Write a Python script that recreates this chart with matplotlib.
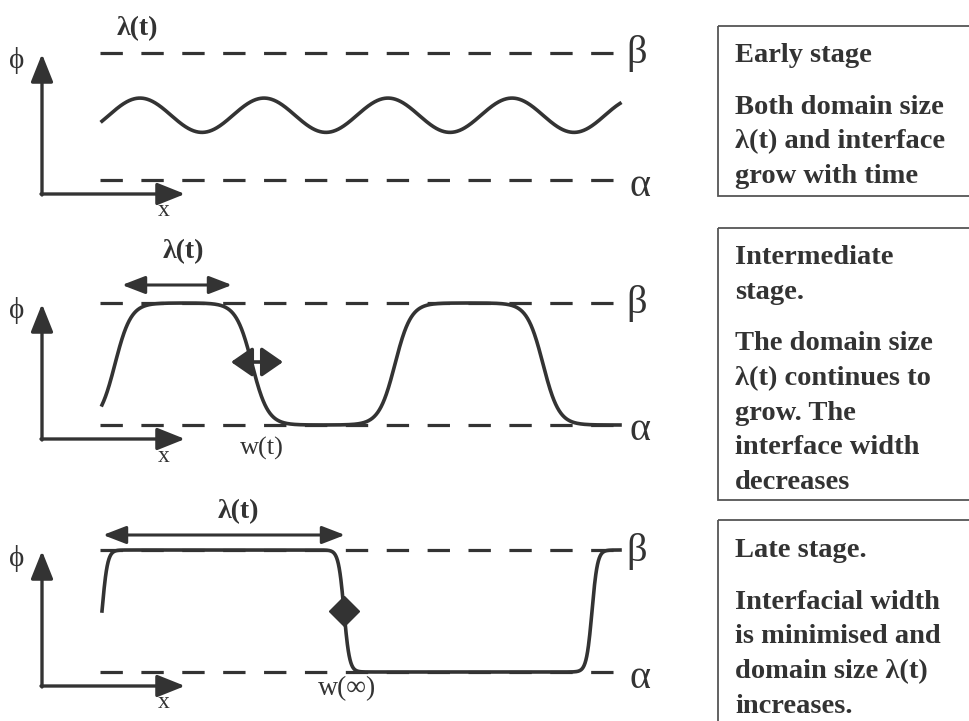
import numpy as np
import matplotlib
matplotlib.use("Agg")
import matplotlib.pyplot as plt
from matplotlib.patches import Rectangle

# ---------------- data (schematic parameters, pixel space) ----------------
panel_beta_y = [53, 303, 550]      # y of beta dashed level per panel
panel_alpha_y = [180, 425, 672]    # y of alpha dashed level per panel
curve_x_start = 102
curve_x_end = 620

# early stage: small-amplitude wave (fraction of beta-alpha gap)
wave_center = 0.51
wave_amp = 0.135
wave_period = 124
wave_peak_x = 140

# intermediate stage: interfaces (centres, signs, widths)
mid_centres = [115, 252, 395, 543]
mid_signs = [1, -1, 1, -1]
mid_width = 16

# late stage: sharp interfaces
late_centres = [102, 344, 592]
late_signs = [1, -1, 1]
late_width = 5.5

stage_lines = [
    ["Early stage", None, "Both domain size", "λ(t) and interface", "grow with time"],
    ["Intermediate", "stage.", None, "The domain size", "λ(t) continues to", "grow. The",
     "interface width", "decreases"],
    ["Late stage.", None, "Interfacial width", "is minimised and", "domain size λ(t)", "increases."],
]
box_first_line_y = [53, 255, 548]
box_top = [26, 228, 520]
box_bottom = [196, 500, 740]

lam_label_xy = [(137, 29), (183, 252), (238, 512)]
lam_arrow = [None, (122, 232, 285), (103, 345, 535)]

# ---------------- drawing ----------------
W, H = 969, 721
fig = plt.figure(figsize=(W / 100, H / 100), dpi=100)
ax = fig.add_axes([0, 0, 1, 1])
ax.set_xlim(0, W)
ax.set_ylim(H, 0)
ax.axis("off")

col = "#333333"
serif = ["Liberation Serif", "DejaVu Serif"]

def to_px(frac, p):
    return panel_alpha_y[p] - frac * (panel_alpha_y[p] - panel_beta_y[p])

x = np.linspace(curve_x_start, curve_x_end, 1200)

def profile(centres, signs, w):
    f = np.zeros_like(x)
    for c, s in zip(centres, signs):
        f += s * 0.5 * (1 + np.tanh((x - c) / w))
    return f

curves = [
    wave_center + wave_amp * np.cos(2 * np.pi * (x - wave_peak_x) / wave_period),
    profile(mid_centres, mid_signs, mid_width),
    profile(late_centres, late_signs, late_width),
]

axis_head = dict(arrowstyle="-|>,head_length=0.85,head_width=0.34", color=col, lw=2.4,
                 mutation_scale=20, shrinkA=0, shrinkB=0)

for p in range(3):
    yb, ya = panel_beta_y[p], panel_alpha_y[p]
    # dashed levels
    for yy in (yb, ya):
        ax.plot([100, 622], [yy, yy], color=col, lw=2.3, ls=(0, (7.0, 5.8)), solid_capstyle="butt")
    ax.text(637, yb + 1, "β", fontsize=29, family=serif, color=col, va="center", ha="center")
    ax.text(640, ya + 6, "α", fontsize=29, family=serif, color=col, va="center", ha="center")
    # axes arrows
    ox, oy = 42, ya + 14
    ax.annotate("", xy=(ox, yb + 1), xytext=(ox, oy + 1), arrowprops=axis_head)
    ax.annotate("", xy=(185, oy), xytext=(ox - 1, oy), arrowprops=axis_head)
    ax.text(17, yb + 8, "ϕ", fontsize=21, family=serif, color=col, va="center", ha="center")
    ax.text(164, oy + 17, "x", fontsize=17, family=serif, color=col, va="center", ha="center")
    # curve
    ax.plot(x, to_px(curves[p], p), color=col, lw=2.6)
    # lambda label
    lx, ly = lam_label_xy[p]
    ax.text(lx, ly, "λ(t)", fontsize=20, family=serif, weight="bold", color=col, ha="center", va="center")
    if lam_arrow[p] is not None:
        x0, x1, yy = lam_arrow[p]
        ax.annotate("", xy=(x1, yy), xytext=(x0, yy),
                    arrowprops=dict(arrowstyle="<|-|>,head_length=0.7,head_width=0.27", color=col, lw=2.2,
                                    mutation_scale=20, shrinkA=0, shrinkB=0))
    # right text box
    ax.add_patch(Rectangle((718, box_top[p]), 300, box_bottom[p] - box_top[p],
                           fill=False, ec="#555555", lw=1.3, clip_on=True))
    yline = box_first_line_y[p]
    for line in stage_lines[p]:
        if line is None:
            yline += 17
            continue
        ax.text(735, yline + 9, line, fontsize=20.5, family=serif, weight="bold", color=col,
                ha="left", va="baseline")
        yline += 34.7

# intermediate: interface-width arrow
ax.annotate("", xy=(283, 362), xytext=(231, 362),
            arrowprops=dict(arrowstyle="<|-|>,head_length=0.65,head_width=0.45", color=col, lw=2.6,
                            mutation_scale=20, shrinkA=0, shrinkB=0))
ax.text(262, 448, "w(t)", fontsize=19, family=serif, color=col, ha="center", va="center")

# late: diamond marker at interface
ax.plot([late_centres[1]], [to_px(0.5, 2)], marker="D", ms=15, color=col, mec=col)
ax.text(347, 689, "w(∞)", fontsize=20, family=serif, color=col, ha="center", va="center")

fig.savefig("out.png", dpi=100, facecolor="white")
